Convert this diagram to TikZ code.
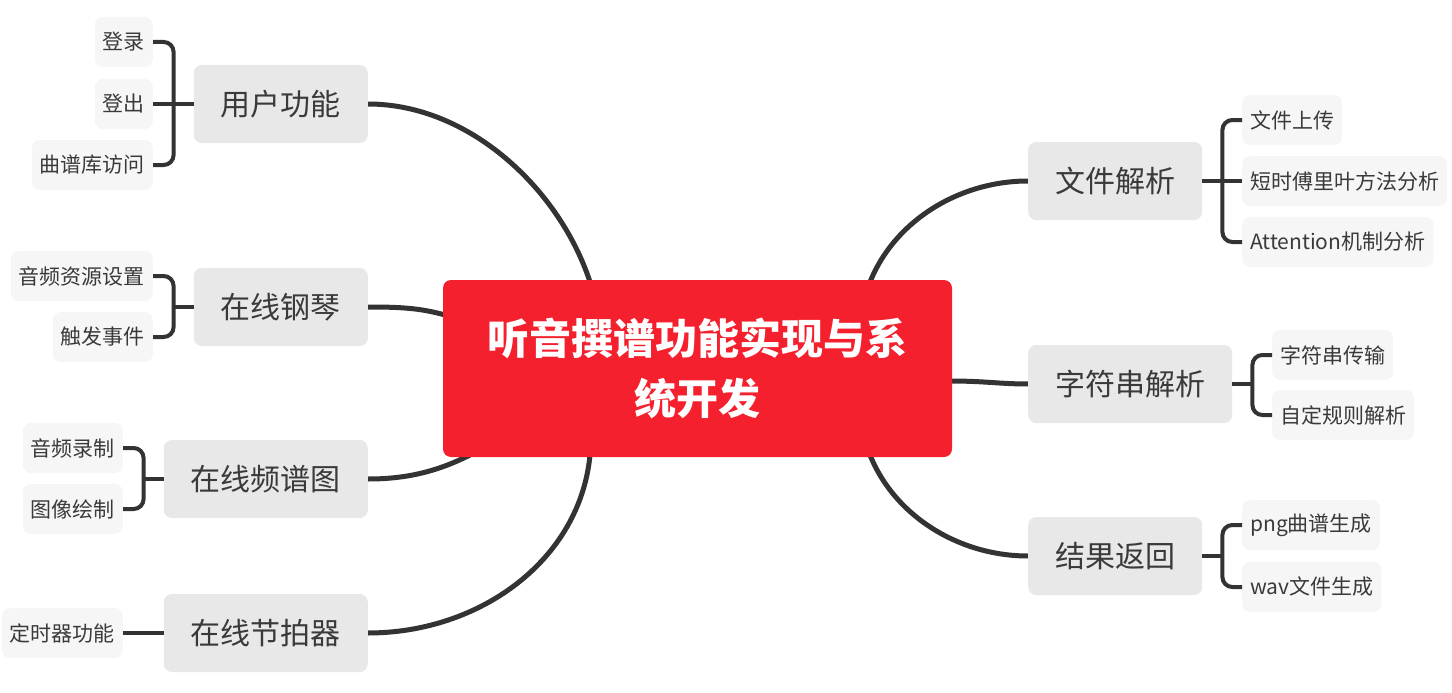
\documentclass[tikz,border=0pt]{standalone}
\usepackage{fontspec}
\setmainfont{Noto Sans CJK SC}
\usetikzlibrary{backgrounds}

\definecolor{titlered}{HTML}{F5202E}
\definecolor{topicgray}{HTML}{E8E8E8}
\definecolor{leafgray}{HTML}{F6F6F6}
\definecolor{linegray}{HTML}{333333}
\definecolor{textgray}{HTML}{3A3A3A}

\tikzset{
  title/.style={fill=titlered, text=white, rounded corners=8pt, minimum width=509pt,
    minimum height=177pt, align=center, font=\fontsize{42}{60}\selectfont\bfseries},
  topic/.style={fill=topicgray, text=textgray, rounded corners=8pt, minimum height=78pt,
    inner xsep=27pt, font=\fontsize{30}{36}\selectfont},
  leaf/.style={fill=leafgray, text=textgray, rounded corners=8pt, minimum height=50pt,
    inner xsep=8pt, font=\fontsize{21}{25}\selectfont},
  branch/.style={draw=linegray, line width=5pt},
  sub/.style={draw=linegray, line width=4pt, rounded corners=10pt},
}

\begin{document}
\begin{tikzpicture}[x=1pt, y=-1pt]
    \useasboundingbox (0,0) rectangle (1452,693);

    \node [title] (T) at (697.5,368.5) {听音撰谱功能实现与系\\统开发};

    \node [topic, anchor=east] (U) at (368,104) {用户功能};
    \node [topic, anchor=east] (P) at (368,307) {在线钢琴};
    \node [topic, anchor=east] (S) at (368,479) {在线频谱图};
    \node [topic, anchor=east] (M) at (368,633) {在线节拍器};
    \node [topic, anchor=west] (F) at (1028,181) {文件解析};
    \node [topic, anchor=west] (R) at (1028,384) {字符串解析};
    \node [topic, anchor=west] (B) at (1028,556) {结果返回};

    \node [leaf, anchor=east] (U1) at (153,42) {登录};
    \node [leaf, anchor=east] (U2) at (153,104) {登出};
    \node [leaf, anchor=east] (U3) at (153,165) {曲谱库访问};
    \node [leaf, anchor=east] (P1) at (153,276) {音频资源设置};
    \node [leaf, anchor=east] (P2) at (153,337) {触发事件};
    \node [leaf, anchor=east] (S1) at (123,448) {音频录制};
    \node [leaf, anchor=east] (S2) at (123,509) {图像绘制};
    \node [leaf, anchor=east] (M1) at (123,633) {定时器功能};
    \node [leaf, anchor=west] (F1) at (1242,120) {文件上传};
    \node [leaf, anchor=west] (F2) at (1242,181) {短时傅里叶方法分析};
    \node [leaf, anchor=west] (F3) at (1242,242) {Attention机制分析};
    \node [leaf, anchor=west] (R1) at (1272,355) {字符串传输};
    \node [leaf, anchor=west] (R2) at (1272,415) {自定规则解析};
    \node [leaf, anchor=west] (B1) at (1242,525) {png曲谱生成};
    \node [leaf, anchor=west] (B2) at (1242,587) {wav文件生成};

    \coordinate (tU) at (590,282);
    \coordinate (tP) at (445,315);
    \coordinate (tS) at (470,455);
    \coordinate (tM) at (590,455);
    \coordinate (tF) at (870,282);
    \coordinate (tR) at (950,381);
    \coordinate (tB) at (870,455);

    \begin{scope}[on background layer]
    \draw[branch] (tU) .. controls (560,190) and (470,104) .. (U.east);
    \draw[branch] (tP) .. controls (420,308) and (400,307) .. (P.east);
    \draw[branch] (tS) .. controls (440,470) and (410,479) .. (S.east);
    \draw[branch] (tM) .. controls (580,560) and (480,633) .. (M.east);
    \draw[branch] (tF) .. controls (895,220) and (960,181) .. (F.west);
    \draw[branch] (tR) .. controls (985,381) and (1000,384) .. (R.west);
    \draw[branch] (tB) .. controls (895,517) and (960,556) .. (B.west);
    \end{scope}

    \draw[sub] (U.west) -- ++(-20,0) coordinate (jU);
    \draw[sub] (jU) |- (U1.east);
    \draw[sub] (jU) -- (U2.east);
    \draw[sub] (jU) |- (U3.east);

    \draw[sub] (P.west) -- ++(-20,0) coordinate (jP);
    \draw[sub] (jP) |- (P1.east);
    \draw[sub] (jP) |- (P2.east);

    \draw[sub] (S.west) -- ++(-20,0) coordinate (jS);
    \draw[sub] (jS) |- (S1.east);
    \draw[sub] (jS) |- (S2.east);

    \draw[sub] (M.west) -- (M1.east);

    \draw[sub] (F.east) -- ++(20,0) coordinate (jF);
    \draw[sub] (jF) |- (F1.west);
    \draw[sub] (jF) -- (F2.west);
    \draw[sub] (jF) |- (F3.west);

    \draw[sub] (R.east) -- ++(20,0) coordinate (jR);
    \draw[sub] (jR) |- (R1.west);
    \draw[sub] (jR) |- (R2.west);

    \draw[sub] (B.east) -- ++(20,0) coordinate (jB);
    \draw[sub] (jB) |- (B1.west);
    \draw[sub] (jB) |- (B2.west);
\end{tikzpicture}
\end{document}
